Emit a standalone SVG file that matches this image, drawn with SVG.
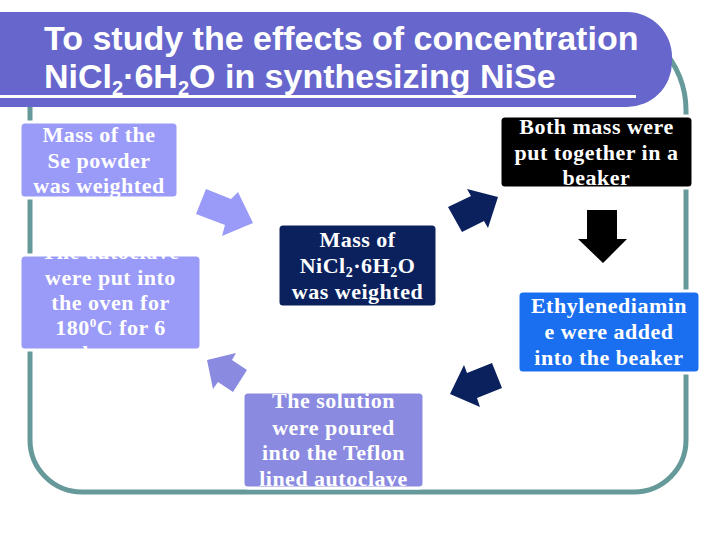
<svg xmlns="http://www.w3.org/2000/svg" width="720" height="540" viewBox="0 0 720 540">
<defs>
<style>
.t{font-family:"Liberation Serif","Times New Roman",serif;font-weight:bold;font-size:22px;fill:#fff;text-anchor:middle;letter-spacing:0.5px}
.title{font-family:"Liberation Sans",Arial,sans-serif;font-weight:bold;font-size:34px;fill:#fff}
.box{stroke:#fff;stroke-width:3}
</style>
</defs>
<rect width="720" height="540" fill="#fff"/>
<g id="frame">
<path d="M30,60 L30,440 A52,52 0 0 0 82,492 L634,492 A52,52 0 0 0 686,440 L686,110 A90,90 0 0 0 596,20 L60,20" fill="none" stroke="#669999" stroke-width="5"/>
</g>
<g id="banner">
<rect x="-60" y="12" width="732" height="95" rx="45" fill="#6666CC"/>
<rect x="0" y="95" width="636" height="3" fill="#fff"/>
<text class="title" x="44" y="50">To study the effects of concentration</text>
<text class="title" x="44" y="88">NiCl<tspan font-size="20" dy="7">2</tspan><tspan dy="-7">·6H</tspan><tspan font-size="20" dy="7">2</tspan><tspan dy="-7">O in synthesizing NiSe</tspan></text>
</g>
<g id="connectors">
<polygon points="196,214 206,189 231,199 238,192 253,223 222,236 225,225" fill="#9A9AF8"/>
<polygon points="448,207 471,196 467,189 498,197 488,228 484,221 462,232" fill="#0A215E"/>
<polygon points="587,210 617,210 617,239 627,239 603,263 578,239 587,239" fill="#000"/>
<polygon points="492,363 467,373 464,365 450,394 480,407 477,398 502,388" fill="#0A215E"/>
<polygon points="247,370 232,360 236,353 207,360 213,389 218,382 233,392" fill="#8A8AE0"/>
</g>
<g id="node-se">
<rect class="box" x="20" y="122" width="158" height="76" rx="5" fill="#9A9AF8"/>
<text class="t" x="99" y="142">Mass of the</text>
<text class="t" x="99" y="168">Se powder</text>
<text class="t" x="99" y="193">was weighted</text>
</g>
<g id="node-oven">
<rect class="box" x="20" y="255" width="181" height="95" rx="5" fill="#9A9AF8"/>
<text class="t" x="110.5" y="259">The autoclave</text>
<text class="t" x="110.5" y="285">were put into</text>
<text class="t" x="110.5" y="310">the oven for</text>
<text class="t" x="110.5" y="335">180<tspan font-size="13" dy="-8">0</tspan><tspan dy="8">C for 6</tspan></text>
<text class="t" x="110.5" y="361">hours</text>
</g>
<g id="node-nicl">
<rect class="box" x="278" y="224" width="159" height="83" rx="5" fill="#0A215E"/>
<text class="t" x="357.5" y="247">Mass of</text>
<text class="t" x="357.5" y="273">NiCl<tspan font-size="14" dy="4">2</tspan><tspan dy="-4">·6H</tspan><tspan font-size="14" dy="4">2</tspan><tspan dy="-4">O</tspan></text>
<text class="t" x="357.5" y="299">was weighted</text>
</g>
<g id="node-beaker">
<rect class="box" x="500" y="116" width="193" height="72" rx="5" fill="#000"/>
<text class="t" x="596.5" y="134">Both mass were</text>
<text class="t" x="596.5" y="160">put together in a</text>
<text class="t" x="596.5" y="185">beaker</text>
</g>
<g id="node-ethylene">
<rect class="box" x="518" y="291" width="182" height="82" rx="5" fill="#1A6FF0"/>
<text class="t" x="609" y="313">Ethylenediamin</text>
<text class="t" x="609" y="339">e were added</text>
<text class="t" x="609" y="365">into the beaker</text>
</g>
<g id="node-solution">
<rect class="box" x="243" y="392" width="181" height="96" rx="5" fill="#8A8AE0"/>
<text class="t" x="333.5" y="408">The solution</text>
<text class="t" x="333.5" y="435">were poured</text>
<text class="t" x="333.5" y="460">into the Teflon</text>
<text class="t" x="333.5" y="486">lined autoclave</text>
</g>
</svg>
